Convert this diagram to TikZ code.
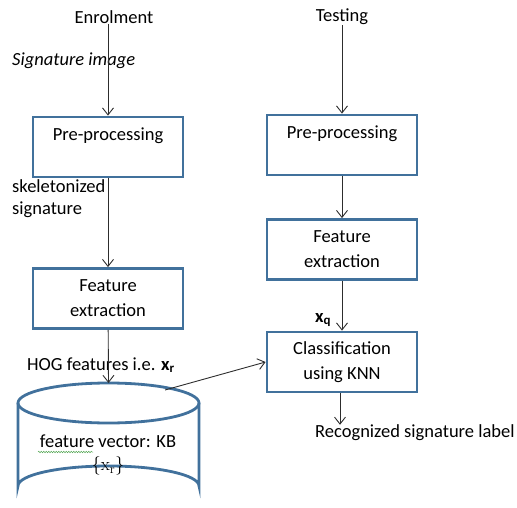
\documentclass[tikz,border=0pt]{standalone}
\usepackage[no-math]{fontspec}
\setmainfont{Carlito}
\usetikzlibrary{positioning, arrows.meta, decorations.pathmorphing}
\definecolor{boxblue}{RGB}{65, 113, 156}
\definecolor{arrowgrey}{RGB}{45, 45, 45}
\definecolor{spellgreen}{RGB}{90, 170, 90}
\tikzset{
  procbox/.style={
    draw=boxblue,
    line width=2.8pt,
    minimum width=150pt,
    minimum height=60pt,
    inner sep=2pt,
    align=center,
    font=\fontsize{18.5}{25}\selectfont
  },
  lbl/.style={
    inner sep=0pt,
    align=left,
    font=\fontsize{18.5}{22}\selectfont
  },
  every edge/.style={
    draw=arrowgrey,
    line width=0.9pt,
    -{Straight Barb[length=7pt, width=11pt]}
  }
}

\begin{document}
\begin{tikzpicture}[x=1pt, y=-1pt]
          \useasboundingbox (0, 0) rectangle (517, 508);
          % enrolment side
          \node[lbl] (enrol) at (114, 17) {Enrolment};
          \node[lbl, anchor=west] (sigimg) at (12, 61) {\itshape Signature image};
          \node[procbox] (prepL) at (108, 147) {Pre-processing\\\mbox{}};
          \node[lbl, anchor=west] (skel) at (12, 199) {skeletonized\\signature};
          \node[procbox] (featL) at (108, 298.5) {Feature\\extraction};
          \node[lbl, anchor=west] (hog) at (27, 365) {HOG features i.e. \textbf{x}\textsubscript{\textbf{r}}};

          % knowledge base cylinder
          \draw[boxblue, line width=2.8pt] (108.5, 403) ellipse [x radius=90.5, y radius=20];
          \draw[boxblue, line width=2.8pt] (18, 403) -- (18, 486)
                arc[start angle=180, end angle=360, x radius=90.5, y radius=20] -- (199, 403);
          \coordinate (kbtop) at (108.5, 383);
          \coordinate (kbout) at (165, 390);
          \node[lbl, align=center] (kb) at (108, 455) {feature vector: KB\\[1pt]{\fontfamily{lmr}\selectfont\{x\textsubscript{r}\}}};
          \draw[spellgreen, line width=0.5pt, decorate,
                decoration={snake, amplitude=0.8pt, segment length=2.5pt}] (38, 452) -- (93, 452);

          % testing side
          \node[lbl] (testing) at (342, 17) {Testing};
          \node[procbox] (prepR) at (342, 145) {Pre-processing\\\mbox{}};
          \node[procbox] (featR) at (342, 249.5) {Feature\\extraction};
          \node[lbl] (xq) at (323, 320) {\textbf{x}\textsubscript{\textbf{q}}};
          \node[procbox] (classify) at (342, 362) {Classification\\using KNN};
          \node[lbl, anchor=west] (result) at (315, 433) {Recognized signature label};

          \path (enrol.south -| prepL.north) edge (prepL.north)
                (prepL) edge (featL)
                (featL) edge (kbtop)
                (kbout) edge (classify.west)
                (testing.south -| prepR.north) edge (prepR.north)
                (prepR) edge (featR)
                (featR) edge (classify)
                ([xshift=-2pt]classify.south) edge ([xshift=-2pt]classify.south |- result.north);
        \end{tikzpicture}
\end{document}
